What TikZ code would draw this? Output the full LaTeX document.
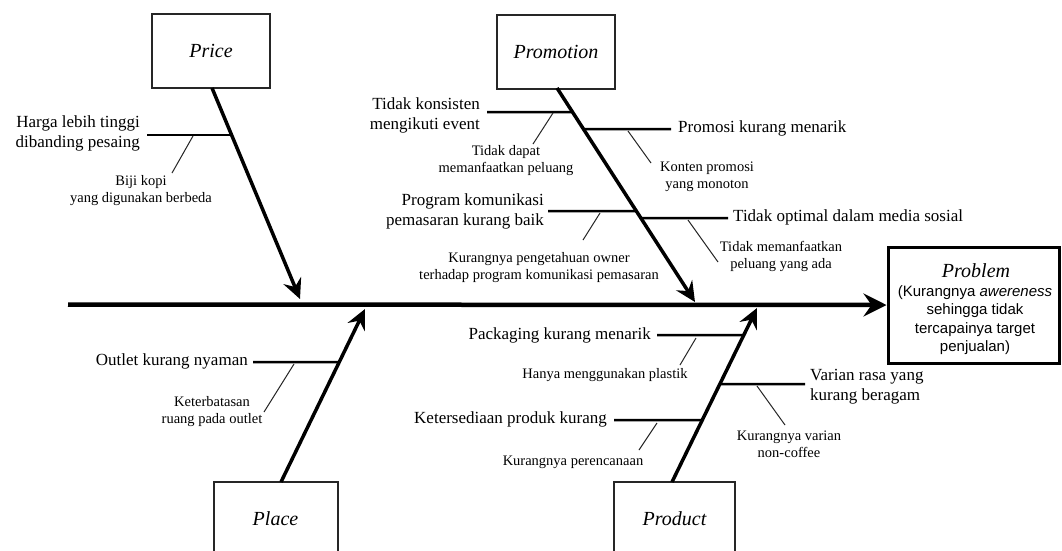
\documentclass[tikz,border=0pt]{standalone}
\usepackage{fontspec}
\setmainfont{Liberation Serif}
\newfontfamily\arialfont{Liberation Sans}
\usetikzlibrary{arrows.meta}
\tikzset{
  catbox/.style={draw=black!85, line width=2pt, minimum width=118pt, minimum height=74pt, inner sep=0pt,
    font=\fontsize{20}{24}\selectfont\itshape},
  probbox/.style={draw=black, line width=3pt, minimum width=171pt, minimum height=116pt, inner sep=0pt},
  mainlbl/.style={font=\fontsize{17}{20}\selectfont, inner sep=0pt},
  sublbl/.style={font=\fontsize{14.5}{17}\selectfont, inner sep=0pt, align=center},
  probtxt/.style={font=\arialfont\fontsize{15}{18.5}\selectfont, inner sep=0pt, align=center},
  mainspine/.style={line width=4.5pt, -{Stealth[length=23pt,width=23pt,inset=8pt]}},
  catspine/.style={line width=3.5pt, -{Stealth[length=20pt,width=19pt,inset=7pt]}},
  branch/.style={line width=2.5pt},
  subline/.style={line width=1pt, draw=black!85},
}
\begin{document}
\begin{tikzpicture}[x=1pt,y=-1pt]
\useasboundingbox (0,0) rectangle (1062,550);
\clip (0,0) rectangle (1062,550);
\fill[white] (0,0) rectangle (1062,550);

% ---------- category boxes ----------
\node[catbox] (price) at (211,51) {Price};
\node[catbox] (promo) at (556,51.5) {Promotion};
\node[catbox, minimum width=124pt] (place) at (275.5,519) {Place};
\node[catbox, minimum width=121pt] (product) at (674.5,519) {Product};

% ---------- problem box ----------
\node[probbox] (problem) at (973.5,305) {};
\node[font=\fontsize{20}{24}\selectfont\itshape, inner sep=0pt] (probtitle) at (976,271) {Problem};
\node[probtxt] (probdesc) at (975,320) {(Kurangnya \textit{awereness}\\sehingga tidak\\tercapainya target\\penjualan)};

% ---------- main spine ----------
\coordinate (mstart) at (68,304.5);
\draw[mainspine] (mstart) -- (problem.west);

% ---------- category spines ----------
\coordinate (prS) at (212,88);   \coordinate (prE) at (300,299);
\coordinate (pmS) at (557,88);   \coordinate (pmE) at (695,302);
\coordinate (plS) at (281,482);  \coordinate (plE) at (365,309);
\coordinate (pdS) at (672,482);  \coordinate (pdE) at (757,308);
\draw[catspine] (prS) -- (prE);
\draw[catspine] (pmS) -- (pmE);
\draw[catspine] (plS) -- (plE);
\draw[catspine] (pdS) -- (pdE);

% ---------- Price ----------
\coordinate (b1s) at (147,135);
\coordinate (b1j) at (intersection of prS--prE and 0,135--10,135);
\draw[branch] (b1s) -- (b1j);
\node[mainlbl, anchor=east, align=right] (l1) at (140,133) {Harga lebih tinggi\\dibanding pesaing};
\coordinate (s1a) at (193,136); \coordinate (s1b) at (172,173);
\draw[subline] (s1a) -- (s1b);
\node[sublbl] (t1) at (141,191) {Biji kopi\\yang digunakan berbeda};

% ---------- Promotion ----------
\coordinate (b2s) at (487,112);
\coordinate (b2j) at (intersection of pmS--pmE and 0,112--10,112);
\draw[branch] (b2s) -- (b2j);
\node[mainlbl, anchor=east, align=right] (l2) at (480,115) {Tidak konsisten\\mengikuti event};
\coordinate (s2a) at (553,113); \coordinate (s2b) at (533,144);
\draw[subline] (s2a) -- (s2b);
\node[sublbl] (t2) at (506,161) {Tidak dapat\\memanfaatkan peluang};

\coordinate (b3e) at (671,129);
\coordinate (b3j) at (intersection of pmS--pmE and 0,129--10,129);
\draw[branch] (b3j) -- (b3e);
\node[mainlbl, anchor=west] (l3) at (678,128) {Promosi kurang menarik};
\coordinate (s3a) at (628,131); \coordinate (s3b) at (651,163);
\draw[subline] (s3a) -- (s3b);
\node[sublbl] (t3) at (707,177) {Konten promosi\\yang monoton};

\coordinate (b4s) at (548,211);
\coordinate (b4j) at (intersection of pmS--pmE and 0,211--10,211);
\draw[branch] (b4s) -- (b4j);
\node[mainlbl, anchor=east, align=right] (l4) at (544,211) {Program komunikasi\\pemasaran kurang baik};
\coordinate (s4a) at (600,213); \coordinate (s4b) at (583,240);
\draw[subline] (s4a) -- (s4b);
\node[sublbl] (t4) at (539,268) {Kurangnya pengetahuan owner\\terhadap program komunikasi pemasaran};

\coordinate (b5e) at (728,218);
\coordinate (b5j) at (intersection of pmS--pmE and 0,218--10,218);
\draw[branch] (b5j) -- (b5e);
\node[mainlbl, anchor=west] (l5) at (733,217) {Tidak optimal dalam media sosial};
\coordinate (s5a) at (688,220); \coordinate (s5b) at (718,262);
\draw[subline] (s5a) -- (s5b);
\node[sublbl] (t5) at (781,256) {Tidak memanfaatkan\\peluang yang ada};

% ---------- Place ----------
\coordinate (b6s) at (253,362);
\coordinate (b6j) at (intersection of plS--plE and 0,362--10,362);
\draw[branch] (b6s) -- (b6j);
\node[mainlbl, anchor=east] (l6) at (248,361) {Outlet kurang nyaman};
\coordinate (s6a) at (294,364); \coordinate (s6b) at (264,412);
\draw[subline] (s6a) -- (s6b);
\node[sublbl] (t6) at (212,412) {Keterbatasan\\ruang pada outlet};

% ---------- Product ----------
\coordinate (b7s) at (657,335);
\coordinate (b7j) at (intersection of pdS--pdE and 0,335--10,335);
\draw[branch] (b7s) -- (b7j);
\node[mainlbl, anchor=east] (l7) at (651,335) {Packaging kurang menarik};
\coordinate (s7a) at (696,338); \coordinate (s7b) at (680,365);
\draw[subline] (s7a) -- (s7b);
\node[sublbl] (t7) at (605,375) {Hanya menggunakan plastik};

\coordinate (b8e) at (805,384);
\coordinate (b8j) at (intersection of pdS--pdE and 0,384--10,384);
\draw[branch] (b8j) -- (b8e);
\node[mainlbl, anchor=west, align=left] (l8) at (810,387) {Varian rasa yang\\kurang beragam};
\coordinate (s8a) at (757,386); \coordinate (s8b) at (785,425);
\draw[subline] (s8a) -- (s8b);
\node[sublbl] (t8) at (789,444) {Kurangnya varian\\non-coffee};

\coordinate (b9s) at (614,420);
\coordinate (b9j) at (intersection of pdS--pdE and 0,420--10,420);
\draw[branch] (b9s) -- (b9j);
\node[mainlbl, anchor=east] (l9) at (607,419) {Ketersediaan produk kurang};
\coordinate (s9a) at (657,423); \coordinate (s9b) at (639,450);
\draw[subline] (s9a) -- (s9b);
\node[sublbl] (t9) at (573,462) {Kurangnya perencanaan};
\end{tikzpicture}
\end{document}
